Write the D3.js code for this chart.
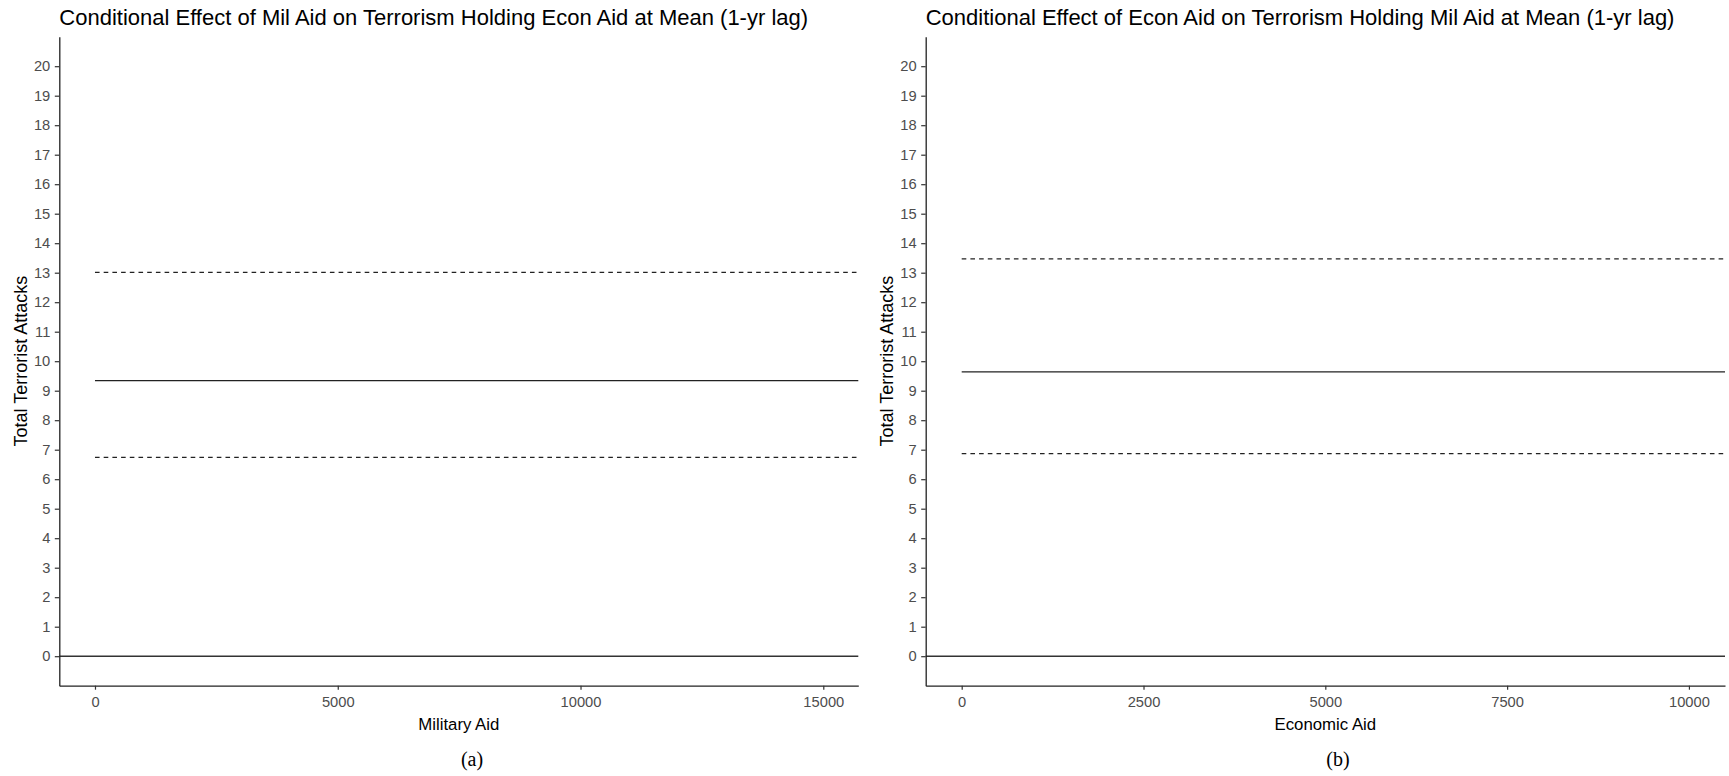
<!DOCTYPE html>
<html>
<head>
<meta charset="utf-8">
<script src="https://cdn.jsdelivr.net/npm/d3@7"></script>
<style>
  html, body { margin: 0; padding: 0; background: #fff; }
  svg { display: block; }
  text { font-family: "Liberation Sans", Arial, sans-serif; }
</style>
</head>
<body>
<svg id="fig" width="1729" height="776"></svg>
<script>
// Y axis ticks shared by both panels
const yTickValues = [0, 1, 2, 3, 4, 5, 6, 7, 8, 9, 10, 11, 12, 13, 14, 15, 16, 17, 18, 19, 20];

// Panel (a): effect of military aid, economic aid held at its mean
const milTitle = "Conditional Effect of Mil Aid on Terrorism Holding Econ Aid at Mean (1-yr lag)";
const milXLabel = "Military Aid";
const milTicks = [0, 5000, 10000, 15000];
const milDomain = [-735, 15721];
const milAid = [0, 15721];
const milFit = [9.34, 9.34];
const milUpper = [13.01, 13.01];
const milLower = [6.74, 6.74];

// Panel (b): effect of economic aid, military aid held at its mean
const econTitle = "Conditional Effect of Econ Aid on Terrorism Holding Mil Aid at Mean (1-yr lag)";
const econXLabel = "Economic Aid";
const econTicks = [0, 2500, 5000, 7500, 10000];
const econDomain = [-495, 10496];
const econAid = [0, 10496];
const econFit = [9.64, 9.64];
const econUpper = [13.47, 13.47];
const econLower = [6.87, 6.87];

const yLabel = "Total Terrorist Attacks";
const yDomain = [-1, 21];
const zeroLine = 0;

const svg = d3.select("#fig");

function drawPanel(opts) {
  const { left, right, top, bottom } = opts;
  const x = d3.scaleLinear().domain(opts.domain).range([left, right]);
  const y = d3.scaleLinear().domain(yDomain).range([bottom, top]);
  const g = svg.append("g");

  // reference line at zero spanning the whole panel
  g.append("line")
    .attr("x1", x(opts.domain[0])).attr("x2", x(opts.domain[1]))
    .attr("y1", y(zeroLine)).attr("y2", y(zeroLine))
    .attr("stroke", "#333").attr("stroke-width", 1.4);

  const pts = (ys) => opts.xs.map((v, i) => [v, ys[i]]);
  const line = d3.line().x(d => x(d[0])).y(d => y(d[1]));

  g.append("path").datum(pts(opts.fit))
    .attr("d", line).attr("fill", "none")
    .attr("stroke", "#222").attr("stroke-width", 1.3);
  [opts.upper, opts.lower].forEach(ys => {
    g.append("path").datum(pts(ys))
      .attr("d", line).attr("fill", "none")
      .attr("stroke", "#222").attr("stroke-width", 1.3)
      .attr("stroke-dasharray", "4.6,4.1");
  });

  // axes
  const yAxis = d3.axisLeft(y).tickValues(yTickValues).tickSize(4.5).tickSizeOuter(0).tickPadding(4.5);
  const gy = g.append("g").attr("transform", `translate(${left},0)`).call(yAxis);
  const xAxis = d3.axisBottom(x).tickValues(opts.ticks).tickSize(4).tickSizeOuter(0).tickPadding(7)
    .tickFormat(d3.format("d"));
  const gx = g.append("g").attr("transform", `translate(0,${bottom})`).call(xAxis);

  [gx, gy].forEach(ax => {
    ax.select(".domain").attr("stroke", "#222").attr("stroke-width", 1.3);
    ax.selectAll(".tick line").attr("stroke", "#333").attr("stroke-width", 1.2);
    ax.selectAll(".tick text")
      .attr("fill", "#4d4d4d")
      .style("font-family", '"Liberation Sans", Arial, sans-serif')
      .style("font-size", "14.7px");
  });

  // title, left-aligned with the panel
  g.append("text")
    .attr("x", left).attr("y", 25)
    .attr("fill", "#000")
    .style("font-size", "22px")
    .text(opts.title);

  // axis titles
  g.append("text")
    .attr("transform", `translate(${left - 32.5},${(top + bottom) / 2}) rotate(-90)`)
    .attr("text-anchor", "middle")
    .attr("fill", "#000")
    .style("font-size", "18px")
    .text(yLabel);

  g.append("text")
    .attr("x", (left + right) / 2).attr("y", 729.5)
    .attr("text-anchor", "middle")
    .attr("fill", "#000")
    .style("font-size", "16.8px")
    .text(opts.xLabel);

  // subfigure caption
  g.append("text")
    .attr("x", opts.captionX).attr("y", 766)
    .attr("text-anchor", "middle")
    .attr("fill", "#000")
    .style("font-family", '"Liberation Serif", "Times New Roman", serif')
    .style("font-size", "20px")
    .text(opts.caption);
}

drawPanel({
  left: 59.3, right: 858.3, top: 36.7, bottom: 685.7,
  domain: milDomain, ticks: milTicks, xs: milAid,
  fit: milFit, upper: milUpper, lower: milLower,
  title: milTitle, xLabel: milXLabel, caption: "(a)", captionX: 472
});

drawPanel({
  left: 925.7, right: 1725, top: 36.7, bottom: 685.7,
  domain: econDomain, ticks: econTicks, xs: econAid,
  fit: econFit, upper: econUpper, lower: econLower,
  title: econTitle, xLabel: econXLabel, caption: "(b)", captionX: 1338
});
</script>
</body>
</html>
